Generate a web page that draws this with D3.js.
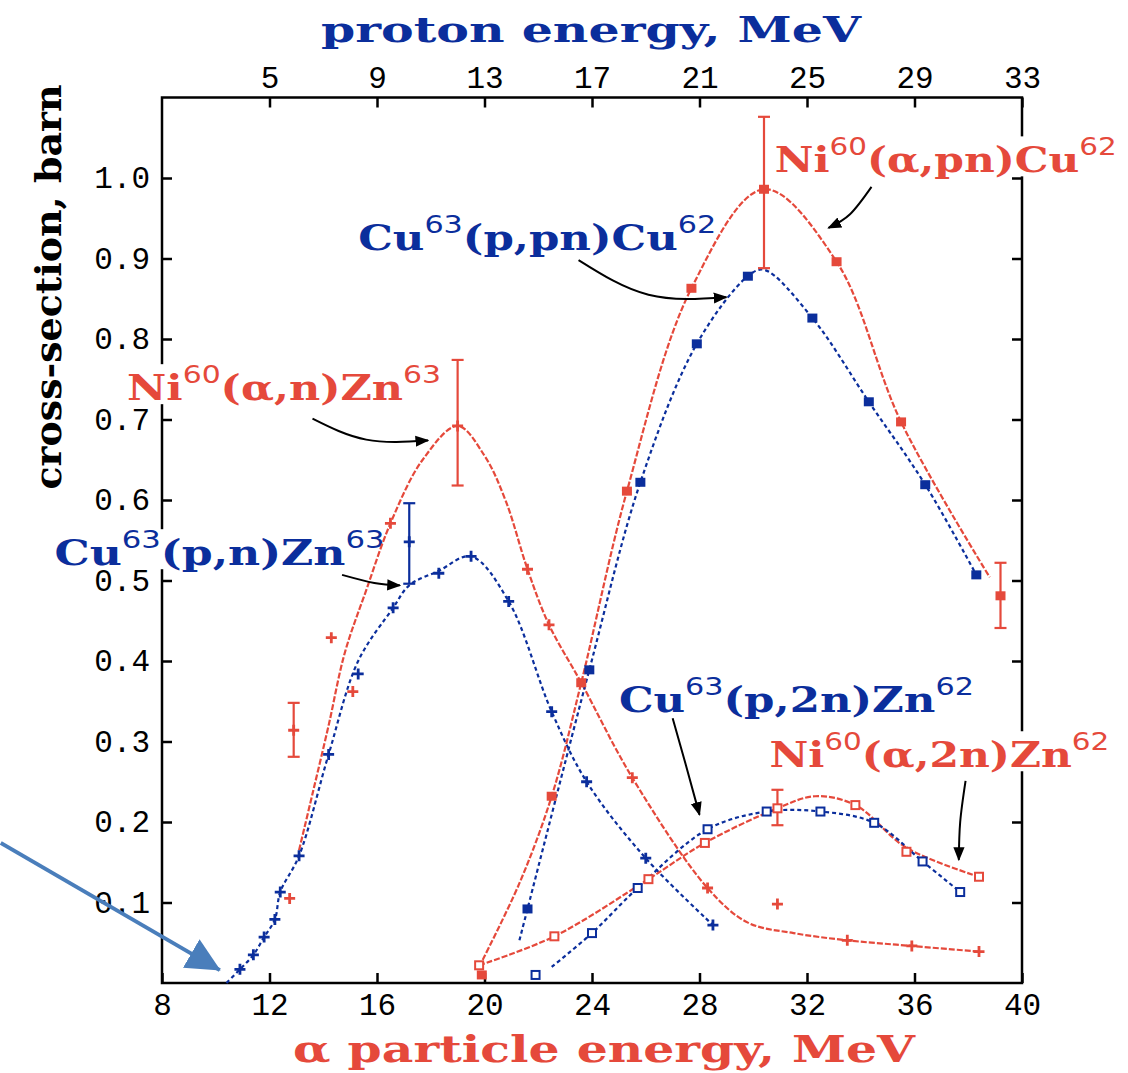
<!DOCTYPE html>
<html>
<head>
<meta charset="utf-8">
<script src="https://cdn.jsdelivr.net/npm/d3@7/dist/d3.min.js"></script>
<style>
  body { margin: 0; background: #fff; }
  svg { display: block; }
</style>
</head>
<body>
<script>
const width = 1128,
      height = 1073;

const red = "#e5493b",
      blue = "#0b2e9c";

// axis ticks
const alphaTicks = [8, 12, 16, 20, 24, 28, 32, 36, 40];
const protonTicks = [5, 9, 13, 17, 21, 25, 29, 33];
const sigmaTicks = [0.1, 0.2, 0.3, 0.4, 0.5, 0.6, 0.7, 0.8, 0.9, 1.0];

// Ni60(a,n)Zn63 -- red crosses
const niAnE = [12.75, 12.9, 14.3, 15.1, 16.5, 19.0, 21.6, 22.4, 25.5, 28.3, 30.9, 33.5, 35.9, 38.4];
const niAnS = [0.105, 0.314, 0.429, 0.362, 0.571, 0.692, 0.514, 0.445, 0.255, 0.118, 0.098, 0.053, 0.046, 0.039];
const niAnFitE = [13.1, 13.6, 14.2, 14.8, 15.6, 16.5, 17.7, 19.0, 20.0, 20.8, 21.6, 22.4, 23.6, 25.5, 28.3, 29.8, 31.5, 33.5, 35.9, 38.4];
const niAnFitS = [0.165, 0.235, 0.32, 0.41, 0.488, 0.571, 0.65, 0.692, 0.655, 0.598, 0.514, 0.445, 0.373, 0.255, 0.118, 0.075, 0.062, 0.053, 0.046, 0.039];
const niAnErr = [[12.9, 0.281, 0.348], [19.0, 0.618, 0.774]];

// Cu63(p,n)Zn63 -- blue crosses
const cuPnE = [10.9, 11.4, 11.8, 12.2, 12.4, 13.1, 14.2, 15.3, 16.6, 17.2, 18.3, 19.5, 20.9, 22.5, 23.8, 26.0, 28.5];
const cuPnS = [0.017, 0.035, 0.057, 0.079, 0.113, 0.158, 0.284, 0.384, 0.466, 0.548, 0.509, 0.53, 0.474, 0.337, 0.25, 0.155, 0.072];
const cuPnFitE = [10.4, 10.9, 11.4, 11.8, 12.2, 12.4, 13.1, 14.2, 15.3, 16.6, 17.2, 18.3, 19.5, 20.9, 22.5, 23.8, 26.0, 28.5];
const cuPnFitS = [0.0, 0.017, 0.035, 0.057, 0.079, 0.113, 0.158, 0.284, 0.40, 0.466, 0.494, 0.512, 0.53, 0.474, 0.337, 0.25, 0.155, 0.072];
const cuPnErr = [[17.2, 0.496, 0.596]];

// Ni60(a,pn)Cu62 -- red filled squares
const niApnE = [19.9, 22.5, 23.6, 25.3, 27.7, 30.4, 33.1, 35.5, 39.2];
const niApnS = [0.01, 0.232, 0.373, 0.611, 0.863, 0.986, 0.896, 0.697, 0.481];
const niApnFitE = [19.8, 21.3, 22.5, 23.6, 25.3, 27.7, 30.4, 33.1, 35.5, 38.8];
const niApnFitS = [0.02, 0.124, 0.232, 0.373, 0.611, 0.863, 0.986, 0.896, 0.697, 0.504];
const niApnErr = [[30.4, 0.888, 1.076], [39.2, 0.441, 0.522]];

// Cu63(p,pn)Cu62 -- blue filled squares
const cuPpnE = [21.6, 23.9, 25.8, 27.9, 29.8, 32.2, 34.3, 36.4, 38.3];
const cuPpnS = [0.092, 0.389, 0.622, 0.794, 0.878, 0.826, 0.722, 0.619, 0.507];
const cuPpnFitE = [21.3, 21.6, 23.9, 25.8, 27.9, 29.8, 30.4, 32.2, 34.3, 36.4, 38.3];
const cuPpnFitS = [0.053, 0.092, 0.389, 0.622, 0.794, 0.878, 0.886, 0.826, 0.722, 0.619, 0.507];

// Ni60(a,2n)Zn62 -- red open squares
const niA2nE = [19.8, 22.6, 26.1, 28.2, 30.9, 33.8, 35.7, 38.4];
const niA2nS = [0.022, 0.058, 0.129, 0.174, 0.217, 0.221, 0.163, 0.132];
const niA2nFitE = [19.8, 22.6, 26.1, 28.2, 30.9, 32.3, 33.8, 35.7, 38.4];
const niA2nFitS = [0.022, 0.058, 0.129, 0.174, 0.217, 0.232, 0.221, 0.168, 0.132];
const niA2nErr = [[30.9, 0.196, 0.24]];

// Cu63(p,2n)Zn62 -- blue open squares
const cuP2nE = [21.9, 24.0, 25.7, 28.3, 30.5, 32.5, 34.5, 36.3, 37.7];
const cuP2nS = [0.01, 0.062, 0.118, 0.191, 0.213, 0.213, 0.199, 0.151, 0.113];
const cuP2nFitE = [22.5, 24.0, 25.7, 28.3, 30.5, 32.5, 34.5, 36.3, 37.7];
const cuP2nFitS = [0.02, 0.062, 0.118, 0.191, 0.213, 0.213, 0.199, 0.151, 0.113];

const zip = (a, b) => a.map((v, i) => [v, b[i]]);

const svg = d3.select("body")
    .append("svg")
    .attr("width", width)
    .attr("height", height);

const x = d3.scaleLinear()
    .domain([8, 40])
    .range([162, 1022]);

// proton energy = alpha energy - 7 on this plot
const xp = d3.scaleLinear()
    .domain([1, 33])
    .range(x.range());

const y = d3.scaleLinear()
    .domain([0, 1.1])
    .range([983, 97.5]);

const defs = svg.append("defs");
defs.append("marker")
    .attr("id", "ah")
    .attr("viewBox", "0 0 10 10")
    .attr("refX", 9).attr("refY", 5)
    .attr("markerWidth", 7).attr("markerHeight", 7)
    .attr("orient", "auto")
  .append("path")
    .attr("d", "M0,1L10,5L0,9Z")
    .attr("fill", "#000");
defs.append("marker")
    .attr("id", "bigah")
    .attr("viewBox", "0 0 34 34")
    .attr("refX", 33).attr("refY", 17)
    .attr("markerUnits", "userSpaceOnUse")
    .attr("markerWidth", 34).attr("markerHeight", 34)
    .attr("orient", "auto")
  .append("path")
    .attr("d", "M0,0.5L34,17L0,33.5Z")
    .attr("fill", "#4a7ebb");

// axes
const tickFont = g => g.selectAll("text")
    .attr("font-family", "'Liberation Mono', monospace")
    .attr("font-size", 31)
    .attr("fill", "#000");

const styleAxis = g => {
  g.select(".domain").remove();
  g.selectAll("line").attr("stroke", "#000").attr("stroke-width", 2.5);
  tickFont(g);
};

svg.append("g")
    .attr("transform", `translate(0,${y(0)})`)
    .call(d3.axisBottom(x).tickValues(alphaTicks).tickSize(-10).tickPadding(10).tickFormat(d3.format("d")))
    .call(styleAxis);

svg.append("g")
    .attr("transform", `translate(0,${y.range()[1]})`)
    .call(d3.axisTop(xp).tickValues(protonTicks).tickSize(-10).tickPadding(10).tickFormat(d3.format("d")))
    .call(styleAxis);

svg.append("g")
    .attr("transform", `translate(${x(8)},0)`)
    .call(d3.axisLeft(y).tickValues(sigmaTicks).tickSize(-10).tickPadding(12).tickFormat(d3.format(".1f")))
    .call(styleAxis);

svg.append("g")
    .attr("transform", `translate(${x(40)},0)`)
    .call(d3.axisRight(y).tickValues(sigmaTicks).tickSize(-10).tickFormat(""))
    .call(styleAxis);

svg.append("rect")
    .attr("x", x(8))
    .attr("y", y.range()[1])
    .attr("width", x(40) - x(8))
    .attr("height", y(0) - y.range()[1])
    .attr("fill", "none")
    .attr("stroke", "#000")
    .attr("stroke-width", 2.5);

// axis titles
svg.append("text")
    .attr("x", 591).attr("y", 42)
    .attr("text-anchor", "middle")
    .attr("font-family", "'DejaVu Serif', serif")
    .attr("font-weight", "bold")
    .attr("font-size", 36)
    .attr("fill", blue)
    .attr("textLength", 540)
    .attr("lengthAdjust", "spacingAndGlyphs")
    .text("proton energy, MeV");

svg.append("text")
    .attr("x", 604).attr("y", 1062)
    .attr("text-anchor", "middle")
    .attr("font-family", "'DejaVu Serif', serif")
    .attr("font-weight", "bold")
    .attr("font-size", 37)
    .attr("fill", red)
    .attr("textLength", 622)
    .attr("lengthAdjust", "spacingAndGlyphs")
    .text("α particle energy, MeV");

svg.append("text")
    .attr("transform", "translate(61,287) rotate(-90)")
    .attr("text-anchor", "middle")
    .attr("font-family", "'DejaVu Serif', serif")
    .attr("font-weight", "bold")
    .attr("font-size", 35)
    .attr("fill", "#000")
    .attr("textLength", 405)
    .attr("lengthAdjust", "spacingAndGlyphs")
    .text("cross-section, barn");

// reaction labels (white box hides the frame behind them)
const labels = [
  [30.8, 1.007, red, 342, [["Ni", 0], ["60", 1], ["(α,pn)Cu", 0], ["62", 1]]],
  [15.3, 0.91, blue, 358, [["Cu", 0], ["63", 1], ["(p,pn)Cu", 0], ["62", 1]]],
  [6.7, 0.724, red, 314, [["Ni", 0], ["60", 1], ["(α,n)Zn", 0], ["63", 1]]],
  [4.0, 0.519, blue, 330, [["Cu", 0], ["63", 1], ["(p,n)Zn", 0], ["63", 1]]],
  [25.0, 0.337, blue, 355, [["Cu", 0], ["63", 1], ["(p,2n)Zn", 0], ["62", 1]]],
  [30.6, 0.268, red, 340, [["Ni", 0], ["60", 1], ["(α,2n)Zn", 0], ["62", 1]]]
];

labels.forEach(([e, s, color, len, parts]) => {
  const g = svg.append("g");
  const bg = g.append("rect").attr("fill", "#fff");
  const t = g.append("text")
      .attr("x", x(e))
      .attr("y", y(s))
      .attr("font-family", "'DejaVu Serif', serif")
      .attr("font-weight", "bold")
      .attr("font-size", 36)
      .attr("fill", color)
      .attr("textLength", len)
      .attr("lengthAdjust", "spacingAndGlyphs");
  let up = false;
  parts.forEach(([str, sup]) => {
    const ts = t.append("tspan").text(str);
    if (sup) {
      ts.attr("font-size", 25)
        .attr("font-weight", "normal")
        .attr("font-family", "'DejaVu Sans', sans-serif")
        .attr("dy", -17);
      up = true;
    } else if (up) {
      ts.attr("dy", 17);
      up = false;
    }
  });
  const b = t.node().getBBox();
  bg.attr("x", b.x - 2).attr("y", b.y + 4)
    .attr("width", b.width + 4).attr("height", b.height - 8);
});

// fitted curves
const line = d3.line()
    .x(d => x(d[0]))
    .y(d => y(d[1]))
    .curve(d3.curveCatmullRom.alpha(0.5));

const curves = [
  [zip(niAnFitE, niAnFitS), red, "6,2"],
  [zip(cuPnFitE, cuPnFitS), blue, "4,3"],
  [zip(niApnFitE, niApnFitS), red, "6,2"],
  [zip(cuPpnFitE, cuPpnFitS), blue, "4,3"],
  [zip(niA2nFitE, niA2nFitS), red, "6,2"],
  [zip(cuP2nFitE, cuP2nFitS), blue, "4,3"]
];

svg.append("g")
    .selectAll("path")
    .data(curves)
    .enter().append("path")
    .attr("d", d => line(d[0]))
    .attr("fill", "none")
    .attr("stroke", d => d[1])
    .attr("stroke-width", 2.2)
    .attr("stroke-dasharray", d => d[2]);

// error bars
const errs = [
  ...niAnErr.map(d => [d, red]),
  ...cuPnErr.map(d => [d, blue]),
  ...niApnErr.map(d => [d, red]),
  ...niA2nErr.map(d => [d, red])
];

const eb = svg.append("g")
    .selectAll("g")
    .data(errs)
    .enter().append("g")
    .attr("stroke", d => d[1])
    .attr("stroke-width", 2.2);
eb.append("line")
    .attr("x1", d => x(d[0][0])).attr("x2", d => x(d[0][0]))
    .attr("y1", d => y(d[0][1])).attr("y2", d => y(d[0][2]));
eb.append("line")
    .attr("x1", d => x(d[0][0]) - 6).attr("x2", d => x(d[0][0]) + 6)
    .attr("y1", d => y(d[0][1])).attr("y2", d => y(d[0][1]));
eb.append("line")
    .attr("x1", d => x(d[0][0]) - 6).attr("x2", d => x(d[0][0]) + 6)
    .attr("y1", d => y(d[0][2])).attr("y2", d => y(d[0][2]));

// markers
const plusPath = "M-5.5,0H5.5M0,-5.5V5.5";

const drawPlus = (pts, color) => {
  svg.append("g")
      .selectAll("path")
      .data(pts)
      .enter().append("path")
      .attr("transform", d => `translate(${x(d[0])},${y(d[1])})`)
      .attr("d", plusPath)
      .attr("stroke", color)
      .attr("stroke-width", 2.8);
};

const drawSquare = (pts, color, open) => {
  svg.append("g")
      .selectAll("rect")
      .data(pts)
      .enter().append("rect")
      .attr("x", d => x(d[0]) - (open ? 4 : 5))
      .attr("y", d => y(d[1]) - (open ? 4 : 4.5))
      .attr("width", open ? 8 : 10)
      .attr("height", open ? 8 : 9)
      .attr("fill", open ? "#fff" : color)
      .attr("stroke", open ? color : "none")
      .attr("stroke-width", 2);
};

drawPlus(zip(niAnE, niAnS), red);
drawPlus(zip(cuPnE, cuPnS), blue);
drawSquare(zip(niApnE, niApnS), red, false);
drawSquare(zip(cuPpnE, cuPpnS), blue, false);
drawSquare(zip(niA2nE, niA2nS), red, true);
drawSquare(zip(cuP2nE, cuP2nS), blue, true);

// annotation arrows (in data units)
const arrows = [
  [[34.4, 0.989], [33.6, 0.955], [32.8, 0.938]],
  [[23.5, 0.898], [26.1, 0.855], [29.0, 0.852]],
  [[13.6, 0.701], [15.6, 0.675], [17.9, 0.674]],
  [[14.7, 0.507], [15.9, 0.497], [16.85, 0.494]],
  [[27.0, 0.329], [27.5, 0.27], [28.0, 0.209]],
  [[37.9, 0.251], [37.7, 0.2], [37.65, 0.153]]
];

svg.append("g")
    .selectAll("path")
    .data(arrows)
    .enter().append("path")
    .attr("d", d => d3.line().x(p => x(p[0])).y(p => y(p[1])).curve(d3.curveNatural)(d))
    .attr("fill", "none")
    .attr("stroke", "#000")
    .attr("stroke-width", 2)
    .attr("marker-end", "url(#ah)");

// overlay pointer arrow
svg.append("line")
    .attr("x1", x(2.0)).attr("y1", y(0.174))
    .attr("x2", x(10.15)).attr("y2", y(0.016))
    .attr("stroke", "#4a7ebb")
    .attr("stroke-width", 4)
    .attr("marker-end", "url(#bigah)");
</script>
</body>
</html>
